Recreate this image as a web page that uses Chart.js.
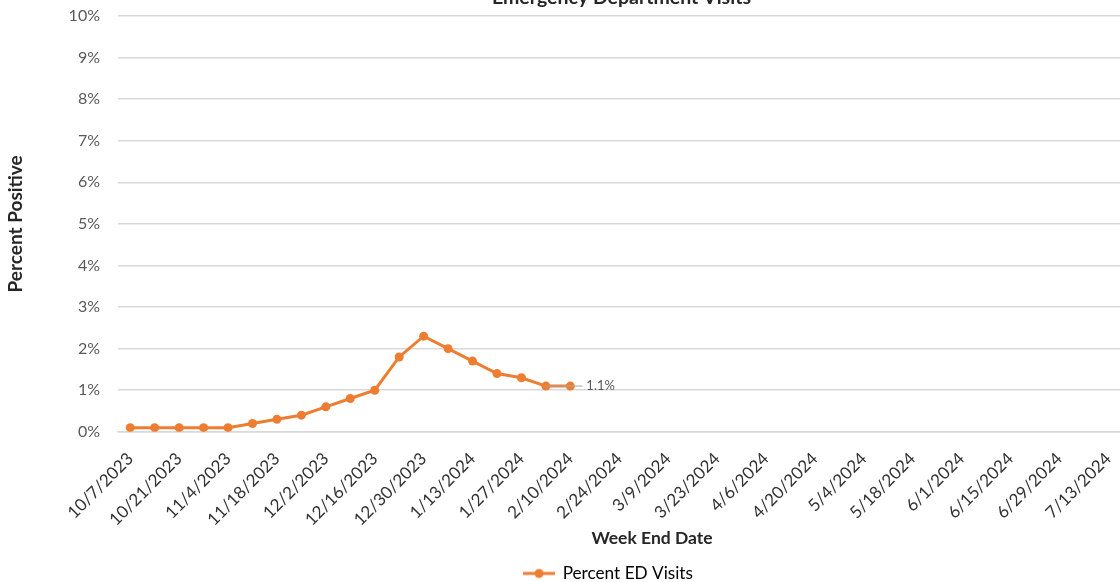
<!DOCTYPE html>
<html>
<head>
<meta charset="utf-8">
<script src="https://cdn.jsdelivr.net/npm/chart.js@4.4.1/dist/chart.umd.min.js"></script>
<style>
  html, body { margin: 0; padding: 0; background: #fff; }
  #frame { width: 1120px; height: 582px; overflow: hidden; position: relative; }
  #wrap { position: absolute; left: 0; top: -14px; width: 1125px; height: 606px; }
</style>
</head>
<body>
<div id="frame"><div id="wrap"><canvas id="chart"></canvas></div></div>
<script>
const weekLabels = [
  '10/7/2023', '10/14/2023', '10/21/2023', '10/28/2023', '11/4/2023', '11/11/2023',
  '11/18/2023', '11/25/2023', '12/2/2023', '12/9/2023', '12/16/2023', '12/23/2023',
  '12/30/2023', '1/6/2024', '1/13/2024', '1/20/2024', '1/27/2024', '2/3/2024',
  '2/10/2024', '2/17/2024', '2/24/2024', '3/2/2024', '3/9/2024', '3/16/2024',
  '3/23/2024', '3/30/2024', '4/6/2024', '4/13/2024', '4/20/2024', '4/27/2024',
  '5/4/2024', '5/11/2024', '5/18/2024', '5/25/2024', '6/1/2024', '6/8/2024',
  '6/15/2024', '6/22/2024', '6/29/2024', '7/6/2024', '7/13/2024'
];
const edVisits = [0.1, 0.1, 0.1, 0.1, 0.1, 0.2, 0.3, 0.4, 0.6, 0.8, 1.0, 1.8, 2.3, 2.0, 1.7, 1.4, 1.3, 1.1, 1.1];
const yTicks = [0, 1, 2, 3, 4, 5, 6, 7, 8, 9, 10];

const ORANGE = '#ED7D31';
const GRID = '#d9d9d9';
const FONT = 'Lato, "Open Sans", sans-serif';
const SHIFT = 14; // canvas sits this far above the visible frame

function legendMarker() {
  const c = document.createElement('canvas');
  c.width = 34;
  c.height = 12;
  const ctx = c.getContext('2d');
  ctx.strokeStyle = ORANGE;
  ctx.lineWidth = 3;
  ctx.beginPath();
  ctx.moveTo(1, 6);
  ctx.lineTo(33, 6);
  ctx.stroke();
  ctx.fillStyle = ORANGE;
  ctx.beginPath();
  ctx.arc(17, 6, 4.5, 0, Math.PI * 2);
  ctx.fill();
  return c;
}

// value label on the last point, with its grey leader
const lastLabel = {
  id: 'lastLabel',
  afterDatasetsDraw(chart) {
    const meta = chart.getDatasetMeta(0);
    const n = edVisits.length;
    const pt = meta.data[n - 1];
    const prev = meta.data[n - 2];
    const ctx = chart.ctx;
    ctx.save();
    ctx.strokeStyle = '#a6a6a6';
    ctx.lineWidth = 1;
    ctx.beginPath();
    ctx.moveTo(prev.x, pt.y);
    ctx.lineTo(pt.x + 12, pt.y);
    ctx.stroke();
    ctx.fillStyle = '#595959';
    ctx.font = '13px ' + FONT;
    ctx.textBaseline = 'middle';
    ctx.textAlign = 'left';
    ctx.fillText(edVisits[n - 1].toFixed(1) + '%', pt.x + 16, pt.y);
    ctx.restore();
  }
};

// axis titles placed where the original has them
const axisTitles = {
  id: 'axisTitles',
  afterDraw(chart) {
    const ctx = chart.ctx;
    const area = chart.chartArea;
    ctx.save();
    ctx.fillStyle = '#262626';
    ctx.textAlign = 'center';
    ctx.textBaseline = 'middle';
    ctx.font = 'bold 17.5px ' + FONT;
    ctx.fillText('Week End Date', 652, 538 + SHIFT);
    ctx.translate(15.5, (area.top + area.bottom) / 2);
    ctx.rotate(-Math.PI / 2);
    ctx.font = 'bold 19px ' + FONT;
    ctx.fillText('Percent Positive', 0, 0);
    ctx.restore();
  }
};

// title and legend sit right of the canvas centre in the original
const nudgeBoxes = {
  id: 'nudgeBoxes',
  afterLayout(chart) {
    if (chart.titleBlock) {
      chart.titleBlock.left += 59;
      chart.titleBlock.right += 59;
    }
    if (chart.legend) {
      chart.legend.left += 46;
      chart.legend.right += 46;
    }
  }
};

new Chart(document.getElementById('chart'), {
  type: 'line',
  data: {
    labels: weekLabels,
    datasets: [
      {
        label: 'Percent ED Visits',
        data: edVisits,
        borderColor: ORANGE,
        backgroundColor: ORANGE,
        borderWidth: 3,
        pointRadius: 4.5,
        pointHoverRadius: 4.5,
        pointBackgroundColor: ORANGE,
        pointBorderWidth: 0,
        tension: 0
      }
    ]
  },
  options: {
    responsive: true,
    maintainAspectRatio: false,
    animation: false,
    layout: { padding: 0 },
    plugins: {
      title: {
        display: true,
        text: 'Emergency Department Visits',
        color: '#262626',
        font: { family: FONT, size: 19.5, weight: 'bold' },
        padding: { top: 0, bottom: 6.6 }
      },
      legend: {
        position: 'bottom',
        labels: {
          usePointStyle: true,
          pointStyleWidth: 30,
          boxHeight: 17,
          padding: 2,
          color: '#404040',
          font: { family: FONT, size: 17.2 },
          generateLabels: () => [{
            text: 'Percent ED Visits',
            pointStyle: legendMarker(),
            fillStyle: ORANGE,
            strokeStyle: ORANGE,
            lineWidth: 0,
            datasetIndex: 0
          }]
        }
      },
      tooltip: { enabled: false }
    },
    scales: {
      x: {
        offset: true,
        afterFit: (scale) => {
          scale.height = 131;
          scale.paddingLeft = 0;
          scale.paddingRight = 0;
        },
        grid: { display: false, drawTicks: false },
        border: { color: GRID, width: 1.5 },
        ticks: {
          autoSkip: false,
          maxRotation: 45,
          minRotation: 45,
          padding: 17,
          color: '#333333',
          font: { family: FONT, size: 17 },
          callback: (value, index) => (index % 2 === 0 ? weekLabels[index] : '')
        }
      },
      y: {
        min: 0,
        max: 10,
        afterFit: (scale) => { scale.width = 118; },
        afterBuildTicks: (scale) => { scale.ticks = yTicks.map((v) => ({ value: v })); },
        grid: { color: GRID, lineWidth: 1.5, drawTicks: false },
        border: { display: false },
        ticks: {
          padding: 18,
          color: '#595959',
          font: { family: FONT, size: 16 },
          callback: (value) => value + '%'
        }
      }
    }
  },
  plugins: [lastLabel, axisTitles, nudgeBoxes]
});
</script>
</body>
</html>
